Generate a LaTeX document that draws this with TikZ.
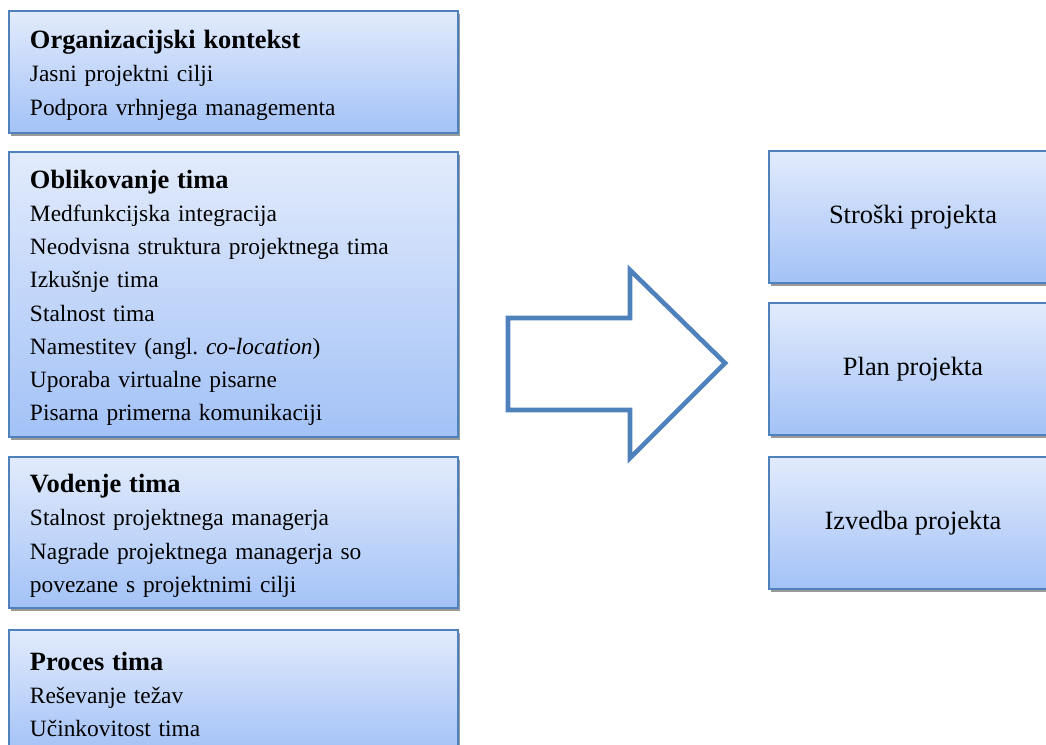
\documentclass[tikz,border=0pt]{standalone}
\usepackage{fontspec}
\setmainfont{Liberation Serif}
\usetikzlibrary{shadows}
\definecolor{pmblue}{HTML}{4F81BD}
\definecolor{pmtop}{HTML}{E2EBFC}
\definecolor{pmbottom}{HTML}{A3C2F7}
\definecolor{pmshadow}{HTML}{9A9A9A}
\tikzset{
  factorbox/.style={
    draw=pmblue, line width=0.8pt, top color=pmtop, bottom color=pmbottom,
    general shadow={fill=pmshadow, shadow xshift=1.2pt, shadow yshift=-1.6pt},
    minimum width=224.5pt, text width=203.5pt, inner xsep=10.5pt, align=left,
    font=\fontsize{11.7}{16.6}\selectfont
  },
  resultbox/.style={
    draw=pmblue, line width=0.8pt, top color=pmtop, bottom color=pmbottom,
    general shadow={fill=pmshadow, shadow xshift=1.2pt, shadow yshift=-1.6pt},
    minimum width=144pt, minimum height=66pt, align=center,
    font=\fontsize{13.2}{16}\selectfont
  },
  bigarrow/.style={
    draw=pmblue, line width=2.3pt
  }
}
\newcommand{\boxtitle}[1]{{\fontsize{13.2}{16.6}\selectfont\bfseries\rule{0pt}{12.5pt}#1}}

\begin{document}
\begin{tikzpicture}[x=0.5pt, y=-0.5pt]
  \useasboundingbox (0,0) rectangle (1046,745);

  % Factors (left column)
  \node[factorbox, minimum height=61pt] (context) at (233.5,72)
    {\boxtitle{Organizacijski kontekst}\\Jasni projektni cilji\\Podpora vrhnjega managementa};
  \node[factorbox, minimum height=142.5pt] (design) at (233.5,294.5)
    {\boxtitle{Oblikovanje tima}\\Medfunkcijska integracija\\Neodvisna struktura projektnega tima\\
     Izkušnje tima\\Stalnost tima\\Namestitev (angl.\ \textit{co-location})\\
     Uporaba virtualne pisarne\\Pisarna primerna komunikaciji};
  \node[factorbox, minimum height=75.5pt] (lead) at (233.5,532.5)
    {\boxtitle{Vodenje tima}\\Stalnost projektnega managerja\\Nagrade projektnega managerja so\\
     povezane s projektnimi cilji};
  \node[factorbox, minimum height=61pt] (process) at (233.5,691)
    {\boxtitle{Proces tima}\\Reševanje težav\\Učinkovitost tima};

  % Outcomes (right column)
  \node[resultbox] (cost) at (913,217) {Stroški projekta};
  \node[resultbox] (plan) at (913,369) {Plan projekta};
  \node[resultbox] (perf) at (913,523) {Izvedba projekta};

  % Block arrow
  \draw[bigarrow] (508,318) -- (630,318) -- (630,270) -- (725,363)
    -- (630,458) -- (630,410) -- (508,410) -- cycle;
\end{tikzpicture}
\end{document}
